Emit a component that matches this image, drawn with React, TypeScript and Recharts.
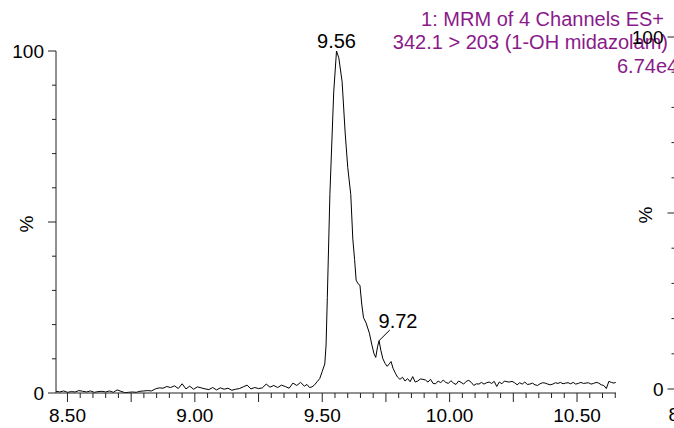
import React from 'react';
import { LineChart, Line, XAxis, YAxis, ReferenceDot, ReferenceLine } from 'recharts';

const FONT = '"Liberation Sans", Arial, Helvetica, sans-serif';
const TITLE_COLOR = '#8a1a8a';
const AXIS_COLOR = '#222';

const TITLE_LINES = ['1: MRM of 4 Channels ES+', '342.1 > 203 (1-OH midazolam)', '6.74e4'];

const X_DOMAIN: [number, number] = [8.455, 10.653];
const Y_DOMAIN: [number, number] = [0, 100];

const X_TICKS = [
  8.5, 8.55, 8.6, 8.65, 8.7, 8.75, 8.8, 8.85, 8.9, 8.95,
  9.0, 9.05, 9.1, 9.15, 9.2, 9.25, 9.3, 9.35, 9.4, 9.45,
  9.5, 9.55, 9.6, 9.65, 9.7, 9.75, 9.8, 9.85, 9.9, 9.95,
  10.0, 10.05, 10.1, 10.15, 10.2, 10.25, 10.3, 10.35, 10.4, 10.45,
  10.5, 10.55, 10.6, 10.65,
];
const Y_TICKS = [0, 10, 20, 30, 40, 50, 60, 70, 80, 90, 100];

// [retention time (min), relative intensity (%)]
const TRACE: [number, number][] = [
  [8.455, 0.5], [8.47, 0.3], [8.485, 0.6], [8.5, 0.2], [8.515, 0.4], [8.53, 0.3],
  [8.545, 0.7], [8.56, 0.5], [8.575, 0.3], [8.59, 0.6], [8.605, 0.2], [8.62, 0.4],
  [8.635, 0.5], [8.65, 0.3], [8.665, 0.6], [8.68, 0.2], [8.695, 0.9], [8.71, 0.5],
  [8.725, 0.1], [8.74, 0.2], [8.755, 0.3], [8.77, 0.2], [8.785, 0.5], [8.8, 0.6],
  [8.815, 0.7], [8.83, 0.6], [8.845, 1.2], [8.86, 1.5], [8.875, 1.4], [8.89, 1.9],
  [8.905, 1.6], [8.92, 2.1], [8.935, 1.3], [8.95, 2.7], [8.965, 1.2], [8.98, 2.0],
  [8.995, 1.1], [9.01, 1.8], [9.025, 1.5], [9.04, 1.2], [9.055, 1.0], [9.07, 1.6],
  [9.085, 0.9], [9.1, 1.5], [9.115, 1.1], [9.13, 1.4], [9.145, 0.8], [9.16, 1.1],
  [9.175, 1.3], [9.19, 1.8], [9.205, 2.3], [9.22, 1.2], [9.235, 1.6], [9.25, 1.3],
  [9.265, 1.5], [9.28, 2.6], [9.295, 1.7], [9.31, 2.2], [9.325, 1.6], [9.34, 2.3],
  [9.355, 1.9], [9.37, 1.4], [9.385, 2.9], [9.4, 2.2], [9.415, 3.1], [9.43, 2.0],
  [9.44, 2.5], [9.45, 1.6], [9.46, 1.8], [9.47, 2.4], [9.48, 3.3], [9.49, 4.2],
  [9.5, 6.3], [9.51, 8.5], [9.515, 14], [9.52, 28], [9.53, 58], [9.545, 88],
  [9.556, 100], [9.565, 98], [9.578, 91], [9.59, 76], [9.6, 66], [9.612, 58],
  [9.62, 45], [9.627, 39], [9.633, 33], [9.64, 32], [9.648, 31.5], [9.655, 26],
  [9.662, 22], [9.672, 20.5], [9.685, 17.5], [9.695, 14], [9.703, 11.5], [9.71, 10.4],
  [9.717, 13.5], [9.723, 15.3], [9.73, 12.5], [9.738, 10], [9.747, 8.6], [9.755, 7.8],
  [9.763, 8.5], [9.77, 9.2], [9.778, 7.2], [9.787, 5.8], [9.795, 4.7], [9.805, 4.0],
  [9.815, 4.6], [9.825, 3.5], [9.835, 4.2], [9.845, 3.3], [9.855, 4.8], [9.865, 3.2],
  [9.875, 3.5], [9.885, 4.1], [9.895, 4.0], [9.905, 3.8], [9.915, 3.2], [9.925, 4.0],
  [9.935, 2.8], [9.945, 2.7], [9.955, 3.5], [9.965, 3.0], [9.975, 3.8], [9.985, 3.1],
  [9.995, 2.8], [10.005, 3.6], [10.015, 2.9], [10.025, 2.5], [10.035, 3.5], [10.045, 3.1],
  [10.055, 2.6], [10.065, 3.4], [10.075, 3.7], [10.085, 3.1], [10.095, 2.2], [10.105, 2.7],
  [10.115, 2.6], [10.125, 3.1], [10.135, 2.6], [10.145, 3.0], [10.155, 3.2], [10.165, 2.8],
  [10.175, 3.4], [10.185, 1.9], [10.195, 3.2], [10.205, 2.7], [10.215, 3.5], [10.225, 3.3],
  [10.235, 3.2], [10.245, 3.4], [10.255, 3.0], [10.265, 2.4], [10.275, 3.0], [10.285, 2.6],
  [10.295, 3.2], [10.305, 2.5], [10.315, 2.6], [10.325, 2.9], [10.335, 2.4], [10.345, 2.2],
  [10.355, 2.7], [10.365, 3.0], [10.375, 2.9], [10.385, 2.6], [10.395, 2.4], [10.405, 2.6],
  [10.415, 3.0], [10.425, 2.8], [10.435, 3.1], [10.445, 2.7], [10.455, 2.9], [10.465, 3.0],
  [10.475, 2.7], [10.485, 3.1], [10.495, 2.6], [10.505, 2.8], [10.515, 3.1], [10.525, 2.8],
  [10.535, 2.9], [10.545, 3.0], [10.555, 2.6], [10.565, 2.8], [10.575, 3.1], [10.585, 2.9],
  [10.595, 2.4], [10.605, 2.2], [10.615, 1.3], [10.625, 3.4], [10.635, 3.1], [10.645, 2.9],
  [10.652, 3.1],
];

const PEAK_MAIN = { t: 9.556, v: 100, label: '9.56' };
const PEAK_SHOULDER = { t: 9.723, v: 15.3, label: '9.72' };
const SHOULDER_LEADER_END = { t: 9.765, v: 18.4 };

const data = TRACE.map(([t, v]) => ({ t, v }));
// the neighbouring panel's trace lies outside the window; only its axes show
const nextPanelData = [{ t: 8.455, v: 0 }];

const XTick = (props: any) => {
  const { x, y, payload, labelDy = 29 } = props;
  const v = payload.value as number;
  const q = Math.round(v * 4);
  const major = Math.abs(v * 4 - q) < 1e-6;
  const labeled = major && q % 2 === 0;
  return (
    <g>
      <line x1={x} x2={x} y1={y} y2={y + (major ? 9 : 5)} stroke={AXIS_COLOR} strokeWidth={1} />
      {labeled && (
        <text x={x} y={y + labelDy} textAnchor="middle" fontSize={19} fontFamily={FONT} fill="#000">
          {v.toFixed(2)}
        </text>
      )}
    </g>
  );
};

const YTick = (props: any) => {
  const { x, y, payload } = props;
  const v = payload.value as number;
  const major = v % 50 === 0;
  const len = major ? 8 : 4;
  return (
    <g>
      <line x1={x} x2={x - len} y1={y} y2={y} stroke={AXIS_COLOR} strokeWidth={1} />
      {(v === 0 || v === 100) && (
        <text x={x - len - 4} y={y} dy="0.35em" textAnchor="end" fontSize={19} fontFamily={FONT} fill="#000">
          {v}
        </text>
      )}
      {v === 50 && (
        <text
          transform={`translate(${x - 30},${y + 2}) rotate(-90)`}
          textAnchor="middle"
          dy="0.35em"
          fontSize={19}
          fontFamily={FONT}
          fill="#000"
        >
          %
        </text>
      )}
    </g>
  );
};

export default function App() {
  return (
    <div
      style={{
        position: 'absolute',
        left: 0,
        top: 0,
        width: 674,
        height: 428,
        overflow: 'hidden',
        background: '#fff',
        fontFamily: FONT,
      }}
    >
      <svg width={674} height={428} style={{ position: 'absolute', left: 0, top: 0 }}>
        <text x={664} y={26} textAnchor="end" fontSize={20} fontFamily={FONT} fill={TITLE_COLOR}>
          {TITLE_LINES[0]}
        </text>
        <text x={668} y={49} textAnchor="end" fontSize={20} fontFamily={FONT} fill={TITLE_COLOR}>
          {TITLE_LINES[1]}
        </text>
        <text x={617} y={73} textAnchor="start" fontSize={20} fontFamily={FONT} fill={TITLE_COLOR}>
          {TITLE_LINES[2]}
        </text>
      </svg>

      <div style={{ position: 'absolute', left: 0, top: 0 }}>
        <LineChart width={674} height={428} data={data} margin={{ top: 51, right: 58, bottom: 0, left: 0 }}>
          <XAxis
            dataKey="t"
            type="number"
            domain={X_DOMAIN}
            allowDataOverflow
            ticks={X_TICKS}
            interval={0}
            tickSize={0}
            tickMargin={0}
            tick={<XTick />}
            height={35}
            axisLine={{ stroke: AXIS_COLOR, strokeWidth: 1 }}
            tickLine={false}
          />
          <YAxis
            type="number"
            domain={Y_DOMAIN}
            allowDataOverflow
            ticks={Y_TICKS}
            interval={0}
            tickSize={0}
            tickMargin={0}
            tick={<YTick />}
            width={56}
            axisLine={{ stroke: AXIS_COLOR, strokeWidth: 1 }}
            tickLine={false}
          />
          <Line
            type="linear"
            dataKey="v"
            stroke="#000"
            strokeWidth={1}
            dot={false}
            activeDot={false}
            isAnimationActive={false}
          />
          <ReferenceLine
            segment={[
              { x: PEAK_SHOULDER.t, y: PEAK_SHOULDER.v },
              { x: SHOULDER_LEADER_END.t, y: SHOULDER_LEADER_END.v },
            ]}
            stroke="#000"
            strokeWidth={1}
            ifOverflow="visible"
          />
          <ReferenceDot
            x={PEAK_MAIN.t}
            y={PEAK_MAIN.v}
            ifOverflow="visible"
            shape={(p: any) => (
              <text x={p.cx} y={p.cy - 3} textAnchor="middle" fontSize={20} fontFamily={FONT} fill="#000">
                {PEAK_MAIN.label}
              </text>
            )}
          />
          <ReferenceDot
            x={PEAK_SHOULDER.t}
            y={PEAK_SHOULDER.v}
            ifOverflow="visible"
            shape={(p: any) => (
              <text x={p.cx - 0.5} y={p.cy - 12.7} textAnchor="start" fontSize={20} fontFamily={FONT} fill="#000">
                {PEAK_SHOULDER.label}
              </text>
            )}
          />
        </LineChart>
      </div>

      <div style={{ position: 'absolute', left: 0, top: 0 }}>
        <LineChart
          width={1300}
          height={428}
          data={nextPanelData}
          margin={{ top: 37, right: 64.5, bottom: 0, left: 619.5 }}
        >
          <XAxis
            dataKey="t"
            type="number"
            domain={X_DOMAIN}
            allowDataOverflow
            ticks={X_TICKS}
            interval={0}
            tickSize={0}
            tickMargin={0}
            tick={<XTick labelDy={32} />}
            height={39}
            axisLine={{ stroke: AXIS_COLOR, strokeWidth: 1 }}
            tickLine={false}
          />
          <YAxis
            type="number"
            domain={Y_DOMAIN}
            allowDataOverflow
            ticks={Y_TICKS}
            interval={0}
            tickSize={0}
            tickMargin={0}
            tick={<YTick />}
            width={56}
            axisLine={{ stroke: AXIS_COLOR, strokeWidth: 1 }}
            tickLine={false}
          />
          <Line
            type="linear"
            dataKey="v"
            stroke="#000"
            strokeWidth={1}
            dot={false}
            activeDot={false}
            isAnimationActive={false}
          />
        </LineChart>
      </div>
    </div>
  );
}
